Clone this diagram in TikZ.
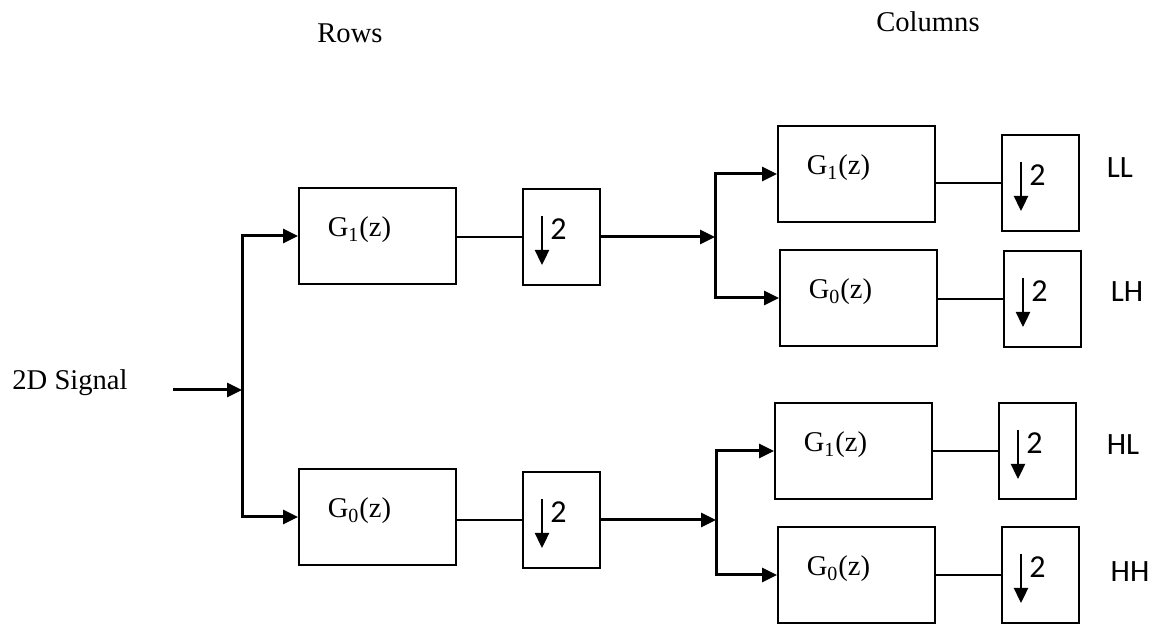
\documentclass[tikz,border=0pt]{standalone}
\usepackage{fontspec}
\setmainfont{Liberation Serif}
\newfontfamily\calfont{Carlito}
\usetikzlibrary{arrows.meta}

\tikzset{
  arr/.style={line width=1.5pt, -{Triangle[length=7.5pt,width=7pt]}},
  wire/.style={line width=1pt},
  filt/.style={draw, line width=1pt, minimum width=78.5pt, minimum height=48pt, anchor=north west},
  ftext/.style={xshift=-9pt, yshift=3pt, font=\fontsize{14.3}{17}\selectfont},
  down/.style={draw, line width=1pt, minimum width=38.5pt, minimum height=48pt, anchor=north west,
    path picture={\draw[line width=1.2pt, -{Triangle[length=7.5pt,width=7pt]}]
      ([shift={(9.5pt,-13.5pt)}]path picture bounding box.north west) -- ++(0pt,-24.5pt);},
    label={[xshift=-1.5pt, yshift=4pt, font=\calfont\fontsize{16}{18}\selectfont]center:2}},
  band/.style={font=\calfont\fontsize{15.5}{18}\selectfont},
  head/.style={font=\fontsize{14.3}{17}\selectfont}
}

\begin{document}
\begin{tikzpicture}[x=0.5pt, y=-0.5pt]
  \useasboundingbox (0,0) rectangle (1153,624);

  % titles
  \node[head] (rows) at (350,33) {Rows};
  \node[head] (cols) at (928,22) {Columns};

  % input
  \node[head] (sig) at (70,383) {2D Signal};
  \coordinate (src) at (173,390);
  \coordinate (j0) at (242,390);

  % row filters
  \node[filt, label={[ftext]center:G\textsubscript{1}(z)}] (g1r) at (298,187) {};
  \node[down] (d1r) at (522,188) {};
  \node[filt, label={[ftext]center:G\textsubscript{0}(z)}] (g0r) at (298,468) {};
  \node[down] (d0r) at (522,471) {};

  % column filters
  \node[filt, label={[ftext]center:G\textsubscript{1}(z)}] (gLL) at (777,125) {};
  \node[down] (dLL) at (1001,134) {};
  \node[filt, label={[ftext]center:G\textsubscript{0}(z)}] (gLH) at (779,249) {};
  \node[down] (dLH) at (1003,250) {};
  \node[filt, label={[ftext]center:G\textsubscript{1}(z)}] (gHL) at (774,402) {};
  \node[down] (dHL) at (998,402) {};
  \node[filt, label={[ftext]center:G\textsubscript{0}(z)}] (gHH) at (777,526) {};
  \node[down] (dHH) at (1001,526) {};

  % subbands
  \node[band] (lLL) at (1120,168) {LL};
  \node[band] (lLH) at (1127,292) {LH};
  \node[band] (lHL) at (1123,445) {HL};
  \node[band] (lHH) at (1130,572) {HH};

  % connections
  \draw[arr] (src) -- (j0);
  \draw[arr] (j0) |- (g1r.west);
  \draw[arr] (j0) |- (g0r.west);
  \draw[wire] (d1r.west -| g1r.east) -- (d1r.west);
  \draw[wire] (d0r.west -| g0r.east) -- (d0r.west);

  \coordinate (j1) at ([xshift=57pt]d1r.east);
  \coordinate (j2) at ([xshift=57.5pt]d0r.east);
  \draw[arr] (d1r.east) -- (j1);
  \draw[arr] (j1) |- (gLL.west);
  \draw[arr] (j1) |- (gLH.west);
  \draw[arr] (d0r.east) -- (j2);
  \draw[arr] (j2) |- (gHL.west);
  \draw[arr] (j2) |- (gHH.west);

  \draw[wire] (dLL.west -| gLL.east) -- (dLL.west);
  \draw[wire] (dLH.west -| gLH.east) -- (dLH.west);
  \draw[wire] (dHL.west -| gHL.east) -- (dHL.west);
  \draw[wire] (dHH.west -| gHH.east) -- (dHH.west);
\end{tikzpicture}
\end{document}
